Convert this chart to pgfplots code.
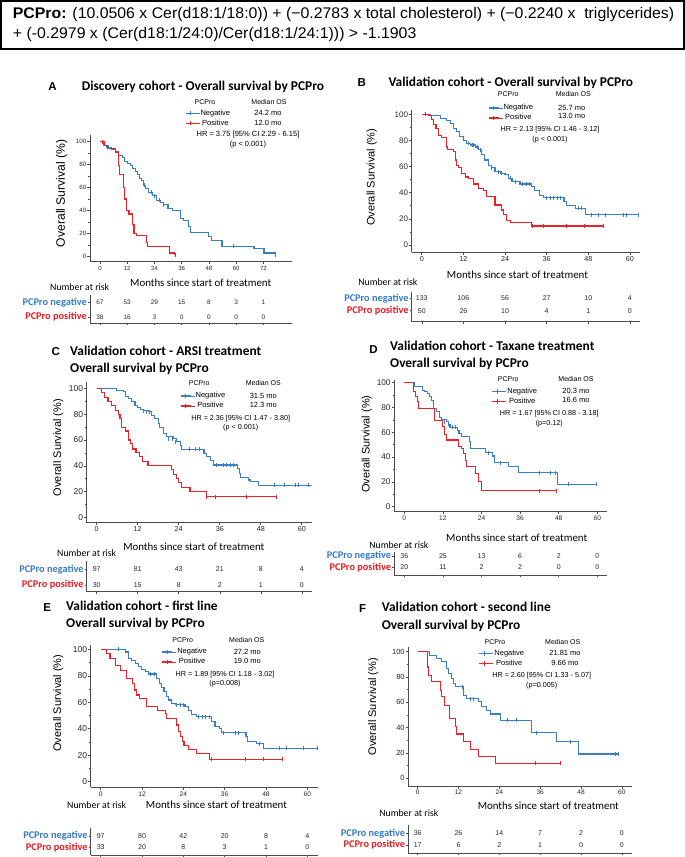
\documentclass[border=0pt]{standalone}
\usepackage{graphicx}
\usepackage{fontspec}
\setmainfont{Liberation Sans}
\newfontfamily\carl{Carlito}
\usepackage{pgfplots}
\pgfplotsset{compat=1.18}
\definecolor{kmblue}{RGB}{58,126,200}
\definecolor{kmred}{RGB}{233,35,40}
\definecolor{labblue}{RGB}{52,122,196}
\definecolor{labred}{RGB}{230,28,34}
\definecolor{axgray}{RGB}{75,75,75}
\newcommand\fs[1]{\fontsize{#1}{#1}\selectfont}
\newlength\formlen
\newcommand\formA{\fs{15.4}\textbf{PCPro:} (10.0506 x Cer(d18:1/18:0)) + (−0.2783 x total cholesterol) + (−0.2240 x\ \ triglycerides)}
\pgfplotsset{
  km/.style={
    scale only axis, anchor=south west,
    axis x line*=bottom, axis y line*=left,
    axis line style={draw=axgray, line width=0.8pt},
    every tick/.style={draw=axgray, line width=0.6pt},
    tick align=outside,
    major tick length=2.5pt, minor tick length=1.6pt,
    ytick={0,20,40,60,80,100}, minor y tick num=1,
    /pgf/number format/assume math mode=true,
    yticklabel style={inner sep=1pt, text=black!85},
    xticklabel style={inner sep=1.5pt, text=black!85},
    legend cell align=center,
    legend style={draw=none, fill=none, inner sep=0pt, outer sep=0pt, anchor=north west,
      font=\fs{7.5}, nodes={inner sep=0.8pt, text height=5.4pt, text depth=1.4pt}, row sep=1.6pt},
    legend image code/.code={
      \draw[##1, line width=1.1pt] (0pt,0pt) -- (10pt,0pt);
      \draw[##1, line width=0.8pt] (5pt,-2.2pt) -- (5pt,2.2pt);
      \path (0pt,0pt) -- (14pt,0pt);},
  },
  curve/.style={const plot, line width=1.1pt, forget plot},
  cens/.style={only marks, mark=|, mark size=2pt, mark options={line width=0.7pt}, forget plot},
  risk/.style={
    scale only axis, anchor=south west,
    axis x line*=bottom, axis y line*=left,
    axis line style={draw=axgray, line width=0.7pt},
    every tick/.style={draw=axgray, line width=0.5pt},
    tick align=outside, major tick length=2pt,
    xticklabels={}, ymin=0,
    yticklabels={{\textcolor{labred}{PCPro positive}},{\textcolor{labblue}{PCPro negative}}},
    yticklabel style={font=\carl\bfseries\fs{10.3}, inner sep=1pt},
  },
  riskn/.style={draw=none, mark=none, nodes near coords, point meta=explicit symbolic,
    every node near coord/.append style={anchor=center, text=black!85, inner sep=0pt, font=\fs{7}}},
}
\begin{document}%
\settowidth\formlen{\formA}%
\pgfmathsetmacro\fac{661.3/\formlen}%
\begin{tikzpicture}
\useasboundingbox (0pt,0pt) rectangle (685pt,-857pt);
% ---------------- formula box
\draw[line width=1.5pt] (1.2pt,-0.9pt) rectangle (683.8pt,-49.2pt);
\node[anchor=west, inner sep=0pt] at (12.7pt,-15pt) {\scalebox{\fac}[1]{\formA}};
\node[anchor=west, inner sep=0pt] at (12.7pt,-35pt) {\scalebox{\fac}[1]{\fs{15.4}+ (-0.2979 x (Cer(d18:1/24:0)/Cer(d18:1/24:1))) > -1.1903}};

% ================= PANEL A
\node[font=\bfseries\fs{11.5}] at (52.5pt,-86.7pt) {A};
\node[anchor=west, font=\carl\bfseries\fs{13.4}, inner sep=0pt] at (81.7pt,-86.7pt) {Discovery cohort - Overall survival by PCPro};
\node[font=\fs{7}] at (205pt,-101.7pt) {PCPro};
\node[font=\fs{7}] at (269pt,-101.7pt) {Median OS};
\node[font=\fs{7.5}] at (268pt,-113pt) {24.2 mo};
\node[font=\fs{7.5}] at (268pt,-122.7pt) {12.0 mo};
\node[font=\fs{7.5}] at (248pt,-135pt) {HR = 3.75 [95\% CI 2.29 - 6.15]};
\node[font=\fs{7.5}] at (248pt,-145pt) {(p < 0.001)};
\node[rotate=90, font=\fs{12.2}] at (61.7pt,-193.3pt) {Overall Survival (\%)};
\node[font=\carl\fs{10.9}] at (200.7pt,-282.3pt) {Months since start of treatment};
\node[font=\carl\fs{9.8}] at (79.7pt,-287.3pt) {Number at risk};
\begin{axis}[km, at={(90pt,-261.7pt)}, width=201.7pt, height=126.7pt,
  xmin=-4.4, xmax=84.5, ymin=-4.6, ymax=105.8, xtick={0,12,...,72},
  xticklabel style={font=\fs{6}}, yticklabel style={font=\fs{6.2}},
  legend style={at={(axis description cs:0.471,1.205)}}]
\addlegendimage{color=kmblue}\addlegendentry{Negative}
\addlegendimage{color=kmred}\addlegendentry{Positive}
\addplot[curve, kmblue] coordinates {(0,100) (1.5,97) (3,95) (5,93) (7,91) (8.3,88) (10,86) (11,83) (12.3,81) (13.5,79) (14.5,77) (15.5,74) (16.5,71) (17.5,68) (18.2,66) (19.2,62) (20.2,59) (21.2,56) (23,53) (24.9,49) (26.5,47) (28,45) (30,42) (32,40) (35.3,33) (37,31.4) (39,26) (39.7,20.6) (47.9,17) (49.3,13.7) (53.8,9) (67.9,7) (72.3,3) (77.5,1.5)};
\addplot[cens, kmblue] coordinates {(3.5,95) (19.5,62) (22.5,56) (24,53) (26,49) (28,45) (59,9) (77.5,1.5)};
\addplot[curve, kmred] coordinates {(0,100) (2,97) (3.5,94) (7,91) (8,88) (8.3,79) (8.6,71) (10.5,60) (11,50) (11.8,40) (12.8,37) (14.2,33) (14.5,28) (15,20) (16.2,18) (20.4,12) (21,9) (30.8,3) (33,1)};
\addplot[cens, kmred] coordinates {(1,100) (33,1)};
\end{axis}
\begin{axis}[risk, at={(90pt,-323pt)}, width=201.7pt, height=28pt, xmin=-4.4, xmax=84.5, ymax=28, xtick={0,12,...,72}, ytick={6,20.3}]
\addplot[riskn, every node near coord/.append style={font=\fs{6.5}}] coordinates {(0,20.3)[67] (12,20.3)[53] (24,20.3)[29] (36,20.3)[15] (48,20.3)[8] (60,20.3)[3] (72,20.3)[1]
 (0,6)[38] (12,6)[16] (24,6)[3] (36,6)[0] (48,6)[0] (60,6)[0] (72,6)[0]};
\end{axis}

% ================= PANEL B
\node[font=\bfseries\fs{11.5}] at (361.7pt,-82.7pt) {B};
\node[anchor=west, font=\carl\bfseries\fs{13.4}, inner sep=0pt] at (388.3pt,-82.7pt) {Validation cohort - Overall survival by PCPro};
\node[font=\fs{7}] at (508.3pt,-94.3pt) {PCPro};
\node[font=\fs{7}] at (573.3pt,-94.3pt) {Median OS};
\node[font=\fs{7.5}] at (571.7pt,-107.7pt) {25.7 mo};
\node[font=\fs{7.5}] at (571.7pt,-116pt) {13.0 mo};
\node[font=\fs{7.2}] at (550pt,-129.3pt) {HR = 2.13 [95\% CI 1.46 - 3.12]};
\node[font=\fs{7.2}] at (550pt,-139.3pt) {(p < 0.001)};
\node[rotate=90, font=\fs{11}] at (371.7pt,-177.3pt) {Overall Survival (\%)};
\node[font=\carl\fs{10.9}] at (517.5pt,-275pt) {Months since start of treatment};
\node[font=\carl\fs{9.8}] at (387.8pt,-281.7pt) {Number at risk};
\begin{axis}[km, at={(411.7pt,-252.3pt)}, width=228.3pt, height=142.3pt,
  xmin=-2.9, xmax=62.9, ymin=-5.6, ymax=103.3, xtick={0,12,...,60},
  xticklabel style={font=\fs{7.2}}, yticklabel style={font=\fs{8}},
  legend style={at={(axis description cs:0.334,1.044)}}]
\addlegendimage{color=kmblue}\addlegendentry{Negative}
\addlegendimage{color=kmred}\addlegendentry{Positive}
\addplot[curve, kmblue] coordinates {(0,100) (2.4,99) (5.3,97) (7.2,95.6) (8.2,93) (9.1,89) (10,87) (11,83) (12,80) (13,78) (14,76.5) (15.4,75) (16.3,73) (17.3,69) (18.2,65) (19.2,61) (20.2,59) (21.1,56) (22.6,55) (24,53.6) (25,51) (26,48.5) (28.3,46.7) (31.7,44.6) (32.6,41.6) (34,38) (35,36) (41,33) (41.8,30) (44.2,28) (47.3,23) (62.4,23)};
\addplot[cens, kmblue] coordinates {(13.5,78) (14.5,76.5) (15,76.5) (16,75) (17,73) (20,59) (22,56) (23,55) (25.5,51) (27,48.5) (29,46.7) (30,46.7) (31,46.7) (36,36) (37,36) (38,36) (39,36) (40,36) (45,28) (46,28) (49,23) (51,23) (53,23) (58,23) (59,23) (62.4,23)};
\addplot[curve, kmred] coordinates {(0,100) (1.9,99) (2.9,96) (3.4,92) (4.1,89) (4.8,84) (5.8,82) (7,75) (7.5,73) (9.1,71.4) (9.6,65) (9.9,61) (10.6,59) (11.5,55) (12.5,52) (13.4,51) (14.9,46.7) (16.3,43.4) (17.8,42) (18.7,37) (21.1,30.6) (23,26.8) (23.5,23) (24.5,19) (25.5,17) (31.7,14.5) (52.3,14.5)};
\addplot[cens, kmred] coordinates {(1,100) (32,14.5) (35,14.5) (41.8,14.5) (47,14.5) (52.3,14.5)};
\end{axis}
\begin{axis}[risk, at={(411.7pt,-321.7pt)}, width=228.3pt, height=29.7pt, xmin=-2.9, xmax=62.9, ymax=29.7, xtick={0,12,...,60}, ytick={11,23.4}]
\addplot[riskn] coordinates {(0,23.4)[133] (12,23.4)[106] (24,23.4)[56] (36,23.4)[27] (48,23.4)[10] (60,23.4)[4]
 (0,11)[50] (12,11)[26] (24,11)[10] (36,11)[4] (48,11)[1] (60,11)[0]};
\end{axis}

% ================= PANEL C
\node[font=\bfseries\fs{11.5}] at (55.8pt,-351.7pt) {C};
\node[anchor=west, font=\carl\bfseries\fs{13.4}, inner sep=0pt] at (70pt,-350.7pt) {Validation cohort - ARSI treatment};
\node[anchor=west, font=\carl\bfseries\fs{13.4}, inner sep=0pt] at (70pt,-369pt) {Overall survival by PCPro};
\node[font=\fs{7}] at (199.3pt,-383.3pt) {PCPro};
\node[font=\fs{7}] at (263.3pt,-383.3pt) {Median OS};
\node[font=\fs{7.5}] at (263.3pt,-395.7pt) {31.5 mo};
\node[font=\fs{7.5}] at (263.3pt,-405pt) {12.3 mo};
\node[font=\fs{7.2}] at (240.7pt,-418.3pt) {HR = 2.36 [95\% CI 1.47 - 3.80]};
\node[font=\fs{7.2}] at (240.7pt,-427.7pt) {(p < 0.001)};
\node[rotate=90, font=\fs{11}] at (58.3pt,-447.5pt) {Overall Survival (\%)};
\node[font=\carl\fs{10.9}] at (193.8pt,-546.7pt) {Months since start of treatment};
\node[font=\carl\fs{9.8}] at (86.7pt,-553.3pt) {Number at risk};
\begin{axis}[km, at={(86.7pt,-522.7pt)}, width=225pt, height=141pt,
  xmin=-2.93, xmax=62.9, ymin=-4.1, ymax=105.2, xtick={0,12,...,60},
  xticklabel style={font=\fs{7.2}}, yticklabel style={font=\fs{8.5}},
  legend style={at={(axis description cs:0.415,0.929)}}]
\addlegendimage{color=kmblue}\addlegendentry{Negative}
\addlegendimage{color=kmred}\addlegendentry{Positive}
\addplot[curve, kmblue] coordinates {(0,100) (5.9,98.7) (7.8,97.4) (8.3,93.5) (9.3,92) (10.2,89.7) (11.2,87) (11.9,85) (12.7,84) (13.7,82.7) (15.1,82) (16.1,79) (17,76.7) (18,72.9) (18.5,69.5) (19.5,65) (20.5,62.5) (22.4,61) (23.4,58.7) (24.4,56) (24.9,52.7) (31.4,49.6) (32.2,47) (33.2,44) (34.1,40.6) (41.2,38) (41.7,34) (42.1,31) (44.4,29) (45.1,27.6) (47.3,25) (62.9,25)};
\addplot[cens, kmblue] coordinates {(13.5,82.7) (14.5,82) (15.5,82) (21,61) (22,61) (23,58.7) (27,52.7) (29,52.7) (30,52.7) (35,40.6) (37,40.6) (38,40.6) (39,40.6) (40,40.6) (52,25) (55,25) (58,25) (59,25) (62,25)};
\addplot[curve, kmred] coordinates {(0,100) (1.3,97) (2.3,93) (3.3,90) (4.3,87) (5.5,83) (6.5,80) (6.8,77) (7.3,70) (8.3,67) (9.3,60) (10,57) (10.5,53) (11.5,50) (12.5,47) (13.5,43) (15,40) (22,37) (22.5,33) (23.4,30) (24,27) (24.9,23) (27.3,20) (32,16) (52.7,16)};
\addplot[cens, kmred] coordinates {(32,16) (34.8,16) (43.7,16) (52.7,16)};
\end{axis}
\begin{axis}[risk, at={(86.7pt,-591.7pt)}, width=225pt, height=30.7pt, xmin=-2.93, xmax=62.9, ymax=30.7, xtick={0,12,...,60}, ytick={6.7,22.4}]
\addplot[riskn] coordinates {(0,22.4)[97] (12,22.4)[81] (24,22.4)[43] (36,22.4)[21] (48,22.4)[8] (60,22.4)[4]
 (0,6.7)[30] (12,6.7)[15] (24,6.7)[8] (36,6.7)[2] (48,6.7)[1] (60,6.7)[0]};
\end{axis}

% ================= PANEL D
\node[font=\bfseries\fs{11.5}] at (373.5pt,-350pt) {D};
\node[anchor=west, font=\carl\bfseries\fs{13.4}, inner sep=0pt] at (390pt,-345.7pt) {Validation cohort - Taxane treatment};
\node[anchor=west, font=\carl\bfseries\fs{13.4}, inner sep=0pt] at (390pt,-364.3pt) {Overall survival by PCPro};
\node[font=\fs{7}] at (508.3pt,-379pt) {PCPro};
\node[font=\fs{7}] at (576pt,-379pt) {Median OS};
\node[font=\fs{7.5}] at (576pt,-391.3pt) {20.3 mo};
\node[font=\fs{7.5}] at (576pt,-400.3pt) {16.6 mo};
\node[font=\fs{7.2}] at (549.3pt,-413.3pt) {HR = 1.67 [95\% CI 0.88 - 3.18]};
\node[font=\fs{7.2}] at (549.3pt,-423.3pt) {(p=0.12)};
\node[rotate=90, font=\fs{11}] at (366.7pt,-444pt) {Overall Survival (\%)};
\node[font=\carl\fs{10.9}] at (516.7pt,-537.3pt) {Months since start of treatment};
\node[font=\carl\fs{9.8}] at (398.8pt,-545pt) {Number at risk};
\begin{axis}[km, at={(394.3pt,-511.7pt)}, width=212.4pt, height=131.7pt,
  xmin=-3.1, xmax=62.9, ymin=-4, ymax=102.2, xtick={0,12,...,60},
  xticklabel style={font=\fs{6.6}}, yticklabel style={font=\fs{8.3}},
  legend style={at={(axis description cs:0.459,0.945)}}]
\addlegendimage{color=kmblue}\addlegendentry{Negative}
\addlegendimage{color=kmred}\addlegendentry{Positive}
\addplot[curve, kmblue] coordinates {(0,100) (3.3,97.3) (5.7,94) (6.4,92.7) (7.2,91.4) (7.8,89) (8.5,86) (9,79) (10,76.6) (10.9,72) (11.6,70.4) (13,68.5) (13.7,65.9) (14.2,64) (16.5,61.3) (17,59) (17.8,57) (20.2,52.4) (20.7,47) (25.3,43.5) (27.5,40.9) (27.9,35.5) (32.3,32.3) (35.4,27.4) (47.6,18.3) (59.8,18.3)};
\addplot[cens, kmblue] coordinates {(12.5,68.5) (15,64) (16,64) (26,43.5) (30,35.5) (42,27.4) (45.5,27.4) (47,27.4) (51,18.3) (59.8,18.3)};
\addplot[curve, kmred] coordinates {(0,100) (3,92.7) (3.6,88.7) (4,84.7) (4.4,79.3) (9.5,69.4) (12,64.5) (12.4,58) (13.2,53.8) (16.8,48.9) (17.8,47) (18.3,43) (18.9,37) (19.2,32.8) (22,26.9) (23.2,20) (24,13) (47.4,13)};
\addplot[cens, kmred] coordinates {(42,13) (47.4,13)};
\end{axis}
\begin{axis}[risk, at={(394.3pt,-575pt)}, width=212.4pt, height=23.3pt, xmin=-3.1, xmax=62.9, ymax=23.3, xtick={0,12,...,60}, ytick={7.7,19}]
\addplot[riskn] coordinates {(0,19)[36] (12,19)[25] (24,19)[13] (36,19)[6] (48,19)[2] (60,19)[0]
 (0,7.7)[20] (12,7.7)[11] (24,7.7)[2] (36,7.7)[2] (48,7.7)[0] (60,7.7)[0]};
\end{axis}

% ================= PANEL E
\node[font=\bfseries\fs{11.5}] at (47.3pt,-607.3pt) {E};
\node[anchor=west, font=\carl\bfseries\fs{13.4}, inner sep=0pt] at (66pt,-605.7pt) {Validation cohort - first line};
\node[anchor=west, font=\carl\bfseries\fs{13.4}, inner sep=0pt] at (66pt,-624.3pt) {Overall survival by PCPro};
\node[font=\fs{7}] at (182.7pt,-640pt) {PCPro};
\node[font=\fs{7}] at (246.7pt,-640pt) {Median OS};
\node[font=\fs{7.5}] at (247.3pt,-651.7pt) {27.2 mo};
\node[font=\fs{7.5}] at (247.3pt,-660.7pt) {19.0 mo};
\node[font=\fs{7.2}] at (225pt,-674.3pt) {HR = 1.89 [95\% CI 1.18 - 3.02]};
\node[font=\fs{7.2}] at (225pt,-684pt) {(p=0.008)};
\node[rotate=90, font=\fs{11}] at (58.3pt,-703.3pt) {Overall Survival (\%)};
\node[font=\carl\fs{10.9}] at (216.5pt,-805pt) {Months since start of treatment};
\node[font=\carl\fs{9.8}] at (96.7pt,-805pt) {Number at risk};
\begin{axis}[km, at={(90.7pt,-787.3pt)}, width=227.6pt, height=142.3pt,
  xmin=-2.9, xmax=63.2, ymin=-4.3, ymax=103.3, xtick={0,12,...,60},
  xticklabel style={font=\fs{6.6}}, yticklabel style={font=\fs{8.5}},
  legend style={at={(axis description cs:0.312,0.981)}}]
\addlegendimage{color=kmblue}\addlegendentry{Negative}
\addlegendimage{color=kmred}\addlegendentry{Positive}
\addplot[curve, kmblue] coordinates {(0,100) (7.1,98) (8,93) (9,91.4) (10,89.4) (10.9,87) (11.9,85) (12.9,83) (13.8,81.4) (16.3,78) (17,74.3) (17.7,71) (18.4,68) (19,64.7) (19.6,61.7) (20.6,59.2) (21.6,58) (24.5,56.7) (25.5,53.7) (26.4,51) (27.9,49) (32.2,45.3) (33.2,42) (34.6,40.3) (35.1,37) (42.2,34) (42.6,30) (45.3,28.5) (47.2,25.2) (63.2,25.2)};
\addplot[cens, kmblue] coordinates {(5,100) (14.5,81.4) (15.5,81.4) (22,58) (23,58) (24,58) (28.5,49) (29.5,49) (30.5,49) (31.5,49) (35.5,37) (39,37) (40,37) (46,28.5) (52,25.2) (54,25.2) (59,25.2) (63,25.2)};
\addplot[curve, kmred] coordinates {(0,100) (1.7,97) (2.7,93) (4.2,88) (5.8,84) (7.4,78) (9.3,74.3) (9.7,69.3) (10.5,65.5) (11.4,63) (13.2,56.7) (16.5,54) (18.7,51.6) (19,47.9) (21.9,42.8) (22.5,37.8) (23.3,34) (23.7,30.2) (24.2,27) (25.5,24) (27.9,21) (31.7,16.9) (52.8,16.9)};
\addplot[cens, kmred] coordinates {(32,16.9) (42,16.9) (47.3,16.9) (52.8,16.9)};
\end{axis}
\begin{axis}[risk, at={(90.7pt,-855pt)}, width=227.6pt, height=26.7pt, xmin=-2.9, xmax=63.2, ymax=26.7, xtick={0,12,...,60}, ytick={7.7,19}]
\addplot[riskn] coordinates {(0,19)[97] (12,19)[80] (24,19)[42] (36,19)[20] (48,19)[8] (60,19)[4]
 (0,7.7)[33] (12,7.7)[20] (24,7.7)[8] (36,7.7)[3] (48,7.7)[1] (60,7.7)[0]};
\end{axis}

% ================= PANEL F
\node[font=\bfseries\fs{11.5}] at (362.7pt,-609pt) {F};
\node[anchor=west, font=\carl\bfseries\fs{13.4}, inner sep=0pt] at (381.7pt,-607.3pt) {Validation cohort - second line};
\node[anchor=west, font=\carl\bfseries\fs{13.4}, inner sep=0pt] at (381.7pt,-626pt) {Overall survival by PCPro};
\node[font=\fs{7}] at (495pt,-642.3pt) {PCPro};
\node[font=\fs{7}] at (562.7pt,-642.3pt) {Median OS};
\node[font=\fs{7.5}] at (565pt,-653.3pt) {21.81 mo};
\node[font=\fs{7.5}] at (565pt,-663.3pt) {9.66 mo};
\node[font=\fs{7.2}] at (541.7pt,-676pt) {HR = 2.60 [95\% CI 1.33 - 5.07]};
\node[font=\fs{7.2}] at (541.7pt,-686pt) {(p=0.005)};
\node[rotate=90, font=\fs{11}] at (373.3pt,-706.7pt) {Overall Survival (\%)};
\node[font=\carl\fs{10.9}] at (548.3pt,-806pt) {Months since start of treatment};
\node[font=\carl\fs{9.8}] at (408.8pt,-812.7pt) {Number at risk};
\begin{axis}[km, at={(408.3pt,-786pt)}, width=223.4pt, height=139.3pt,
  xmin=-2.75, xmax=62.9, ymin=-6.05, ymax=104, xtick={0,12,...,60},
  xticklabel style={font=\fs{6.6}}, yticklabel style={font=\fs{7.5}},
  legend style={at={(axis description cs:0.316,0.981)}}]
\addlegendimage{color=kmblue}\addlegendentry{Negative}
\addlegendimage{color=kmred}\addlegendentry{Positive}
\addplot[curve, kmblue] coordinates {(0,100) (3.4,97.4) (5.6,94.7) (7.1,92) (8.5,86.8) (9,83) (10,79) (10.5,75) (11.2,72.4) (13.4,65.8) (14.4,63) (17.8,60.5) (18.8,56.6) (20.3,53.4) (21.3,50.8) (24.4,46) (33.5,36) (40.7,29) (47.3,19.2) (59,19.2)};
\addplot[cens, kmblue] coordinates {(13,72.4) (15.5,63) (16.5,63) (26.5,46) (29,46) (35,36) (45,29) (58,19.2) (59,19.2)};
\addplot[curve, kmred] coordinates {(0,100) (2.8,88) (3.3,81.6) (4.1,76.3) (6.6,69.7) (7.1,64.5) (8,57.9) (9.3,47.4) (11,40.8) (11.5,35) (13.4,29) (15.4,23) (17.8,17.1) (23,11.8) (41.9,11.8)};
\addplot[cens, kmred] coordinates {(34.5,11.8) (41.9,11.8)};
\end{axis}
\begin{axis}[risk, at={(408.3pt,-853.3pt)}, width=223.4pt, height=28.3pt, xmin=-2.75, xmax=62.9, ymax=28.3, xtick={0,12,...,60}, ytick={8.3,20}]
\addplot[riskn] coordinates {(0,20)[36] (12,20)[26] (24,20)[14] (36,20)[7] (48,20)[2] (60,20)[0]
 (0,8.3)[17] (12,8.3)[6] (24,8.3)[2] (36,8.3)[1] (48,8.3)[0] (60,8.3)[0]};
\end{axis}
\end{tikzpicture}%
\end{document}
